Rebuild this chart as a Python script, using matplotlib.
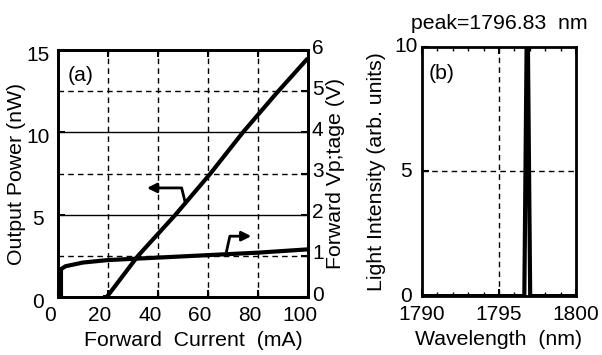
import matplotlib
matplotlib.use("Agg")
import matplotlib.pyplot as plt
import matplotlib.transforms as mtrans

plt.rcParams['font.family'] = ['Liberation Sans', 'DejaVu Sans']

# Panel (a) data
current_p = [18.0, 19.5, 32, 47, 61, 74, 87, 100]
power = [0.0, 0.0, 2.5, 5.0, 7.5, 10.0, 12.3, 14.5]
current_v = [1.2, 1.2, 3, 10, 20, 40, 60, 80, 100]
voltage = [0.0, 0.68, 0.75, 0.84, 0.90, 0.96, 1.02, 1.08, 1.16]
xticks_a = [0, 20, 40, 60, 80, 100]
yticks_a = [0, 5, 10, 15]
yticks_v = [0, 1, 2, 3, 4, 5, 6]

# Panel (b) data
wavelength = [1790, 1796.64, 1796.79, 1796.83, 1796.87, 1797.02, 1800]
intensity = [0, 0, 10.2, 10.5, 10.2, 0, 0]
xticks_b = [1790, 1795, 1800]
yticks_b = [0, 5, 10]

fig = plt.figure(figsize=(6.02, 3.55), dpi=100)

FS = 15.3
TS = 15.0
LW_SP = 2.0


def shift_labels(ticks, dx, dy, ha=None):
    off = mtrans.ScaledTranslation(dx / 100, dy / 100, fig.dpi_scale_trans)
    for t in ticks:
        for lbl in (t.label1, t.label2):
            lbl.set_transform(lbl.get_transform() + off)
            if ha is not None:
                lbl.set_horizontalalignment(ha)


# ---------- Panel (a) ----------
ax = fig.add_axes([0.0963, 0.163, 0.415, 0.696])
ax.set_xlim(0, 100)
ax.set_ylim(0, 15)
for x in [20, 40, 60, 80]:
    ax.axvline(x, color='black', ls=(0, (4, 3)), lw=1.0, zorder=1)
for y in [2.5, 7.5, 12.5]:
    ax.axhline(y, color='black', ls=(0, (4, 3)), lw=1.0, zorder=1)
for y in [5, 10]:
    ax.axhline(y, color='black', ls='-', lw=1.0, zorder=1)

ax.plot(current_p, power, color='black', lw=3, solid_capstyle='butt', zorder=3)
ax.set_xticks(xticks_a)
ax.set_yticks(yticks_a)
ax.tick_params(direction='in', length=5, width=1.5, labelsize=TS, top=True)
ax.tick_params(axis='x', pad=6.5)
ax.tick_params(axis='y', pad=14.4)
for s in ax.spines.values():
    s.set_linewidth(LW_SP)
ax.set_xlabel('Forward  Current  (mA)', fontsize=FS, labelpad=4)
ax.xaxis.label.set_x(0.54)
ax.set_ylabel('Output Power (nW)', fontsize=FS, labelpad=0)
ax.text(4, 13.1, '(a)', fontsize=FS)
shift_labels(ax.xaxis.get_major_ticks(), -8, 0)
shift_labels(ax.yaxis.get_major_ticks(), 0, -3, ha='center')

# arrows
ax.plot([50.8, 49.5, 40], [5.83, 6.63, 6.63], color='black', lw=2)
ax.annotate('', xy=(34.5, 6.63), xytext=(41, 6.63),
            arrowprops=dict(arrowstyle='-|>', color='black', lw=2, mutation_scale=14))
ax.plot([67.5, 68.8, 73], [2.8, 3.7, 3.7], color='black', lw=2)
ax.annotate('', xy=(78.5, 3.7), xytext=(72, 3.7),
            arrowprops=dict(arrowstyle='-|>', color='black', lw=2, mutation_scale=14))

ax2 = ax.twinx()
ax2.set_ylim(0, 6)
ax2.set_yticks(yticks_v)
ax2.plot(current_v, voltage, color='black', lw=3, zorder=3)
ax2.tick_params(direction='in', length=5, width=1.5, labelsize=TS, pad=3)
for s in ax2.spines.values():
    s.set_linewidth(LW_SP)
ax2.set_ylabel('Forward Vp;tage (V)', fontsize=FS, labelpad=2)
shift_labels(ax2.yaxis.get_major_ticks(), 0, 4)

# ---------- Panel (b) ----------
bx = fig.add_axes([0.701, 0.166, 0.256, 0.702])
bx.set_xlim(1790, 1800)
bx.set_ylim(0, 10)
bx.axvline(1795, color='black', ls=(0, (4, 3)), lw=1.0, zorder=1)
bx.axhline(5, color='black', ls=(0, (4, 3)), lw=1.0, zorder=1)
bx.plot(wavelength, intensity, color='black', lw=3, zorder=3)
bx.set_xticks(xticks_b)
bx.set_xticks(range(1790, 1801), minor=True)
bx.set_yticks(yticks_b)
bx.tick_params(which='major', direction='in', length=5, width=1.5, labelsize=TS, top=True)
bx.tick_params(axis='x', pad=6.5)
bx.tick_params(axis='y', pad=11.5)
bx.tick_params(which='minor', direction='in', length=3, width=1.0, top=True)
for s in bx.spines.values():
    s.set_linewidth(LW_SP)
bx.set_xlabel('Wavelength  (nm)', fontsize=FS, labelpad=4)
bx.set_ylabel('Light Intensity (arb. units)', fontsize=FS, labelpad=6)
bx.set_title('peak=1796.83  nm', fontsize=FS, pad=13)
bx.text(1790.4, 8.7, '(b)', fontsize=FS)
shift_labels(bx.yaxis.get_major_ticks(), 0, 2, ha='center')

fig.savefig('out.png', dpi=100)
